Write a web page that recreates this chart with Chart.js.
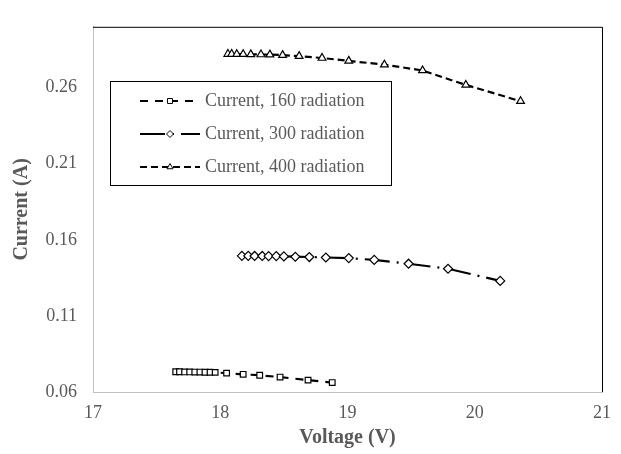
<!DOCTYPE html>
<html>
<head>
<meta charset="utf-8">
<script src="https://cdn.jsdelivr.net/npm/chart.js@4.4.1/dist/chart.umd.min.js"></script>
<style>
  html, body { margin: 0; padding: 0; background: #fff; }
</style>
</head>
<body>
<canvas id="graficoIV" width="621" height="454"></canvas>
<script>
// ================================
// Dados
// ================================
const tensao160 = [17.65, 17.68, 17.72, 17.76, 17.80, 17.84, 17.88, 17.92, 17.96, 18.05, 18.18, 18.31, 18.47, 18.69, 18.88]
const corrente160 = [0.0733, 0.0733, 0.0732, 0.0732, 0.0731, 0.0731, 0.0730, 0.0730, 0.0729, 0.0724, 0.0716, 0.0710, 0.0698, 0.0678, 0.0662]

const tensao300 = [18.17, 18.22, 18.27, 18.33, 18.38, 18.44, 18.50, 18.59, 18.70, 18.83, 19.01, 19.21, 19.48, 19.79, 20.20]
const corrente300 = [0.1495, 0.1495, 0.1494, 0.1494, 0.1493, 0.1493, 0.1491, 0.1489, 0.1487, 0.1484, 0.1480, 0.1468, 0.1443, 0.1410, 0.1330]

const tensao400 = [18.06, 18.09, 18.13, 18.18, 18.24, 18.32, 18.39, 18.49, 18.62, 18.80, 19.01, 19.29, 19.59, 19.93, 20.36]
const corrente400 = [0.2821, 0.2821, 0.2820, 0.2820, 0.2819, 0.2818, 0.2817, 0.2814, 0.2807, 0.2795, 0.2776, 0.2751, 0.2713, 0.2618, 0.2511]

const rotulos = ["Current, 160 radiation", "Current, 300 radiation", "Current, 400 radiation"]
const ticksX = [17, 18, 19, 20, 21]
const ticksY = [0.06, 0.11, 0.16, 0.21, 0.26]

const FONTE = "'Liberation Serif', 'Times New Roman', serif"
const CINZA = "#595959"

function pontos(xs, ys) {
  return xs.map((x, i) => ({ x: x, y: ys[i] }))
}

// ================================
// Moldura preta (topo e direita)
// ================================
const moldura = {
  id: "moldura",
  beforeDatasetsDraw(chart) {
    const { ctx, chartArea } = chart
    ctx.save()
    ctx.strokeStyle = "#000"
    ctx.lineWidth = 1
    ctx.beginPath()
    ctx.moveTo(chartArea.left, chartArea.top + 0.5)
    ctx.lineTo(chartArea.right + 0.5, chartArea.top + 0.5)
    ctx.lineTo(chartArea.right + 0.5, chartArea.bottom)
    ctx.stroke()
    ctx.restore()
  },
}

// ================================
// Legenda dentro da área do gráfico
// ================================
const legendaInterna = {
  id: "legendaInterna",
  afterDraw(chart) {
    const ctx = chart.ctx
    const caixa = { x: 110, y: 81, w: 281, h: 104 }
    ctx.save()
    ctx.fillStyle = "#fff"
    ctx.fillRect(caixa.x, caixa.y, caixa.w, caixa.h)
    ctx.strokeStyle = "#000"
    ctx.lineWidth = 1
    ctx.strokeRect(caixa.x + 0.5, caixa.y + 0.5, caixa.w, caixa.h)

    chart.data.datasets.forEach((ds, i) => {
      const y = 101 + i * 33
      ctx.strokeStyle = ds.borderColor
      ctx.lineWidth = ds.borderWidth
      ctx.setLineDash(ds.borderDash)
      ctx.beginPath()
      ctx.moveTo(140, y)
      ctx.lineTo(200, y)
      ctx.stroke()
      ctx.setLineDash([])

      ctx.fillStyle = "#fff"
      ctx.strokeStyle = "#000"
      ctx.lineWidth = 1
      Chart.helpers.drawPoint(ctx, { pointStyle: ds.pointStyle, radius: 3.5, borderWidth: 1, rotation: 0 }, 170, y)

      ctx.fillStyle = CINZA
      ctx.font = "18px " + FONTE
      ctx.textBaseline = "middle"
      ctx.textAlign = "left"
      ctx.fillText(ds.label, 205, y)
    })
    ctx.restore()
  },
}

// ================================
// Gráfico I-V
// ================================
const ctx = document.getElementById("graficoIV").getContext("2d")

new Chart(ctx, {
  type: "scatter",
  data: {
    datasets: [
      {
        label: rotulos[0],
        data: pontos(tensao160, corrente160),
        showLine: true,
        borderColor: "#000",
        borderWidth: 2.2,
        borderDash: [8, 7],
        pointStyle: "rect",
        pointRadius: 4,
        pointBorderWidth: 1.2,
        pointBackgroundColor: "#fff",
        pointBorderColor: "#000",
      },
      {
        label: rotulos[1],
        data: pontos(tensao300, corrente300),
        showLine: true,
        borderColor: "#000",
        borderWidth: 2.2,
        borderDash: [25, 7, 2, 7],
        pointStyle: "rectRot",
        pointRadius: 4.5,
        pointBorderWidth: 1.2,
        pointBackgroundColor: "#fff",
        pointBorderColor: "#000",
      },
      {
        label: rotulos[2],
        data: pontos(tensao400, corrente400),
        showLine: true,
        borderColor: "#000",
        borderWidth: 2.2,
        borderDash: [7, 4],
        pointStyle: "triangle",
        pointRadius: 4.5,
        pointBorderWidth: 1.2,
        pointBackgroundColor: "#fff",
        pointBorderColor: "#000",
      },
    ],
  },
  options: {
    responsive: false,
    animation: false,
    devicePixelRatio: 1,
    layout: { padding: { left: 0, top: 10, right: 13, bottom: 0 } },
    plugins: {
      legend: { display: false },
      tooltip: { enabled: false },
    },
    scales: {
      x: {
        type: "linear",
        min: 17,
        max: 21,
        afterBuildTicks: (scale) => { scale.ticks = ticksX.map((v) => ({ value: v })) },
        afterFit: (scale) => { scale.height = 62 },
        grid: { display: false, drawTicks: false },
        border: { display: true, color: "#bfbfbf", width: 1 },
        ticks: {
          padding: 10,
          color: CINZA,
          font: { family: FONTE, size: 18 },
          maxRotation: 0,
          callback: (v) => String(v),
        },
        title: {
          display: true,
          text: "Voltage (V)",
          color: CINZA,
          font: { family: FONTE, size: 20, weight: "bold" },
          padding: { top: 0, bottom: 4 },
        },
      },
      y: {
        type: "linear",
        min: 0.06,
        max: 0.30,
        afterBuildTicks: (scale) => { scale.ticks = ticksY.map((v) => ({ value: v })) },
        afterFit: (scale) => { scale.width = 93 },
        grid: { display: false, drawTicks: false },
        border: { display: true, color: "#bfbfbf", width: 1 },
        ticks: {
          padding: 16,
          color: CINZA,
          font: { family: FONTE, size: 18 },
          callback: (v) => v.toFixed(2),
        },
        title: {
          display: true,
          text: "Current (A)",
          color: CINZA,
          font: { family: FONTE, size: 20, weight: "bold" },
          padding: { top: 10, bottom: 0 },
        },
      },
    },
  },
  plugins: [moldura, legendaInterna],
})
</script>
</body>
</html>
